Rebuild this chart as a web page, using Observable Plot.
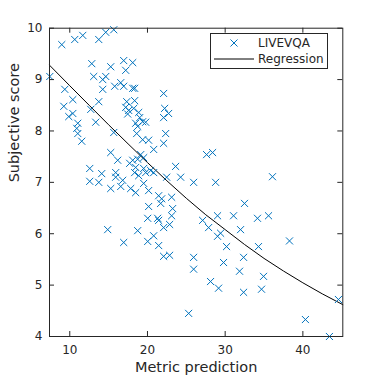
<!DOCTYPE html>
<html><head><meta charset="utf-8">
<script src="https://cdn.jsdelivr.net/npm/d3@7"></script>
<script src="https://cdn.jsdelivr.net/npm/@observablehq/plot@0.6"></script>
<style>body{margin:0;background:#fff}</style>
</head><body><div id="chart"></div>
<script>
const metricPrediction = [8.97,10.64,11.67,13.73,14.63,15.66,12.83,15.27,16.94,18.10,17.20,7.43,13.08,14.63,14.24,14.24,15.78,16.56,16.94,18.10,18.35,9.36,22.08,10.39,13.73,9.23,10.39,9.87,12.70,11.03,13.34,17.33,18.35,17.20,17.58,18.23,17.45,18.87,19.00,19.38,18.48,18.74,22.21,22.72,22.08,19.77,10.90,11.03,11.54,18.61,19.38,20.15,20.80,22.34,22.08,15.27,15.66,27.61,28.38,16.17,12.57,18.10,18.74,19.13,19.51,23.62,17.71,18.48,19.51,20.41,19.77,20.80,14.11,15.91,15.91,12.57,13.73,16.81,16.56,15.27,17.84,18.48,19.51,18.35,18.87,20.15,21.44,21.83,21.70,23.11,22.47,24.27,25.94,28.77,36.09,20.15,23.24,23.11,20.03,21.31,21.44,22.08,22.85,14.88,18.74,20.80,16.94,20.03,21.44,22.08,22.85,25.94,25.94,27.10,27.87,29.02,31.08,32.49,31.98,29.02,29.41,34.16,35.58,30.18,34.29,38.28,32.37,29.79,31.85,28.12,29.15,32.37,34.94,34.68,25.30,40.33,43.42,44.58];
const subjectiveScore = [9.68,9.78,9.86,9.78,9.92,9.97,9.31,9.25,9.37,9.33,9.18,9.06,9.06,9.06,9.00,8.81,8.87,8.94,8.87,8.83,8.83,8.81,8.73,8.61,8.57,8.48,8.34,8.28,8.42,8.15,8.17,8.57,8.59,8.46,8.40,8.44,8.33,8.36,8.26,8.18,8.15,8.09,8.44,8.34,8.26,8.17,8.05,7.95,7.80,7.95,7.83,7.82,7.64,7.95,7.76,7.58,7.97,7.54,7.58,7.43,7.27,7.43,7.45,7.54,7.48,7.31,7.37,7.29,7.27,7.23,7.19,7.19,7.17,7.19,7.10,7.02,7.00,7.04,6.92,6.88,6.88,6.80,6.98,7.19,7.13,6.84,6.74,6.68,6.59,6.71,7.10,7.10,7.00,7.00,7.11,6.53,6.49,6.35,6.30,6.30,6.26,6.12,6.18,6.08,6.06,5.96,5.83,5.85,5.77,5.56,5.58,5.54,5.31,6.26,6.12,6.35,6.35,6.59,6.08,5.95,6.01,6.30,6.35,5.75,5.75,5.86,5.54,5.44,5.27,5.07,4.94,4.86,5.17,4.92,4.45,4.33,4.00,4.72];
const regressionX = [7.39,10,12.5,15,17.5,20,22.5,25,27.5,30,32.5,35,37.5,40,42.5,45.14];
const regressionY = [9.28,8.88,8.50,8.12,7.75,7.385,7.03,6.69,6.37,6.08,5.79,5.52,5.275,5.045,4.83,4.62];
const xTicks = [10,20,30,40];
const yTicks = [4,5,6,7,8,9,10];
const seriesNames = ["LIVEVQA","Regression"];
const xLabel = "Metric prediction";
const yLabel = "Subjective score";

const points = metricPrediction.map((x,i)=>({x, y: subjectiveScore[i]}));
const curve = regressionX.map((x,i)=>({x, y: regressionY[i]}));

const W=378, H=378, mL=49, mR=35.7, mT=27.7, mB=42;
const frameW = W-mL-mR, frameH = H-mT-mB;
const ink = "#262626";
const blue = "#0072BD";

const chart = Plot.plot({
  width: W, height: H,
  marginLeft: mL, marginRight: mR, marginTop: mT, marginBottom: mB,
  style: {fontFamily: "DejaVu Sans", fontSize: "12px", color: ink, background: "#fff"},
  x: {domain: [7.39, 45.14]},
  y: {domain: [4, 10]},
  marks: [
    Plot.line(curve, {x: "x", y: "y", stroke: "#000", strokeWidth: 1}),
    Plot.dot(points, {x: "x", y: "y", symbol: "times", r: 3.3, stroke: blue, strokeWidth: 1}),
    Plot.ruleX(xTicks, {x: d => d, insetTop: frameH - 5, stroke: ink, strokeWidth: 1}),
    Plot.ruleX(xTicks, {x: d => d, insetBottom: frameH - 5, stroke: ink, strokeWidth: 1}),
    Plot.ruleY(yTicks, {y: d => d, insetRight: frameW - 5, stroke: ink, strokeWidth: 1}),
    Plot.ruleY(yTicks, {y: d => d, insetLeft: frameW - 5, stroke: ink, strokeWidth: 1}),
    Plot.frame({stroke: ink}),
    Plot.axisX({ticks: xTicks, tickSize: 0, tickPadding: 9, tickFormat: d => String(d), label: null, fontSize: 12, fill: ink}),
    Plot.axisY({ticks: yTicks, tickSize: 0, tickPadding: 7, tickFormat: d => String(d), label: null, fontSize: 12, fill: ink}),
    Plot.text([xLabel], {frameAnchor: "bottom", dy: 31, fontSize: 14.5, fill: ink, lineAnchor: "middle"}),
    Plot.text([yLabel], {frameAnchor: "left", rotate: -90, dx: -35, fontSize: 14.5, fill: ink, lineAnchor: "middle"})
  ]
});

// legend
const svg = d3.select(chart);
const lg = svg.append("g").attr("font-family", "DejaVu Sans").attr("font-size", 12)
  .attr("fill", ink).attr("text-anchor", "start");
lg.append("rect").attr("x", 210.5).attr("y", 33.5).attr("width", 117).attr("height", 35)
  .attr("fill", "#fff").attr("stroke", ink).attr("stroke-width", 1);
lg.append("path").attr("d", d3.symbol(d3.symbolTimes, Math.PI * 3.3 * 3.3)())
  .attr("transform", "translate(234,43)").attr("stroke", blue).attr("fill", "none").attr("stroke-width", 1);
lg.append("line").attr("x1", 214).attr("x2", 254).attr("y1", 59).attr("y2", 59).attr("stroke", "#000");
lg.selectAll("text.lbl").data(seriesNames).join("text").attr("class", "lbl")
  .attr("text-anchor", "start")
  .attr("x", 258).attr("y", (d, i) => i ? 59 : 43).attr("dy", "0.35em").text(d => d);

document.getElementById("chart").append(chart);
</script>
</body></html>
